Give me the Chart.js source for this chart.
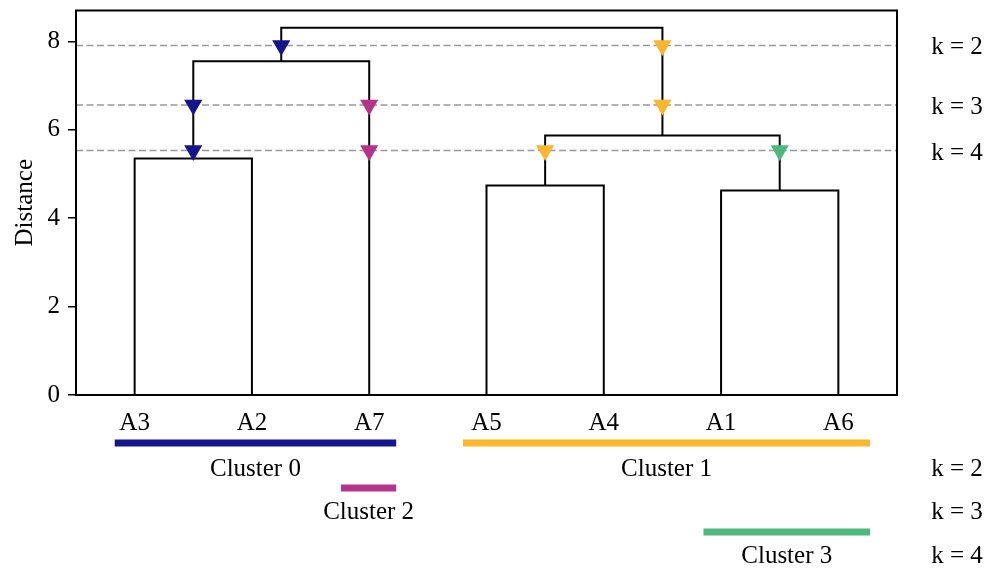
<!DOCTYPE html>
<html>
<head>
<meta charset="utf-8">
<script src="https://cdn.jsdelivr.net/npm/chart.js@4"></script>
<style>
  html, body { margin: 0; padding: 0; background: #fff; }
</style>
</head>
<body>
<canvas id="c" width="992" height="571"></canvas>
<script>
// leaves in dendrogram order
var leaves = ['A3', 'A2', 'A7', 'A5', 'A4', 'A1', 'A6'];

// merges: node ids 0..6 are leaves, merge i creates node 7+i
var mergeLeft = [0, 3, 5, 8, 7, 11];
var mergeRight = [1, 4, 6, 9, 2, 10];
var mergeHeight = [5.35, 4.74, 4.63, 5.87, 7.55, 8.31];

// cut levels
var cutHeights = [7.91, 6.56, 5.53];
var kLabels = ['k = 2', 'k = 3', 'k = 4'];
var markerClusters = [[0, 1], [0, 2, 1], [0, 2, 1, 3]];

// clusters shown below the axis
var clusterNames = ['Cluster 0', 'Cluster 1', 'Cluster 2', 'Cluster 3'];
var clusterColors = ['#14148c', '#fbb62c', '#b5338a', '#4cb87c'];
var clusterStart = [-0.17, 2.8, 1.76, 4.85];
var clusterEnd = [2.23, 6.27, 2.23, 6.27];
var clusterRow = [0, 0, 1, 2];

var yTicks = [0, 2, 4, 6, 8];

var font = "'Liberation Serif', 'Times New Roman', serif";
var fontSize = 25;

// node positions
var nodeX = [], nodeY = [], parent = [];
for (var i = 0; i < leaves.length; i++) {
  nodeX.push(i);
  nodeY.push(0);
}
for (var m = 0; m < mergeLeft.length; m++) {
  var id = leaves.length + m;
  nodeX.push((nodeX[mergeLeft[m]] + nodeX[mergeRight[m]]) / 2);
  nodeY.push(mergeHeight[m]);
  parent[mergeLeft[m]] = id;
  parent[mergeRight[m]] = id;
}

var datasets = [];

// dashed cut lines
cutHeights.forEach(function(h) {
  datasets.push({
    data: [{x: -0.5, y: h}, {x: leaves.length - 0.5, y: h}],
    showLine: true,
    borderColor: '#999999',
    borderWidth: 1.5,
    borderDash: [7, 3.5],
    pointRadius: 0,
    order: 3
  });
});

// dendrogram links
for (var m = 0; m < mergeLeft.length; m++) {
  var l = mergeLeft[m], r = mergeRight[m];
  datasets.push({
    data: [
      {x: nodeX[l], y: nodeY[l]},
      {x: nodeX[l], y: mergeHeight[m]},
      {x: nodeX[r], y: mergeHeight[m]},
      {x: nodeX[r], y: nodeY[r]}
    ],
    showLine: true,
    borderColor: '#000000',
    borderWidth: 2,
    pointRadius: 0,
    order: 2
  });
}

// markers where the cut lines cross the links
cutHeights.forEach(function(h, k) {
  var pts = [];
  for (var n = 0; n < nodeX.length; n++) {
    if (parent[n] !== undefined && nodeY[n] < h && nodeY[parent[n]] > h) {
      pts.push({x: nodeX[n], y: h});
    }
  }
  pts.sort(function(a, b) { return a.x - b.x; });
  datasets.push({
    data: pts,
    pointStyle: 'triangle',
    pointRotation: 180,
    pointRadius: 10.5,
    pointBorderWidth: 0,
    pointBackgroundColor: markerClusters[k].map(function(c) { return clusterColors[c]; }),
    showLine: false,
    clip: false,
    order: 1
  });
});

var extras = {
  id: 'extras',
  afterDraw: function(chart) {
    var ctx = chart.ctx, a = chart.chartArea;
    var xs = chart.scales.x, ys = chart.scales.y;
    ctx.save();
    // frame
    ctx.strokeStyle = '#000';
    ctx.lineWidth = 2;
    ctx.strokeRect(a.left, a.top, a.right - a.left, a.bottom - a.top);

    ctx.fillStyle = '#000';
    ctx.font = fontSize + 'px ' + font;
    ctx.textAlign = 'center';
    ctx.textBaseline = 'alphabetic';
    var kx = a.right + 60;
    cutHeights.forEach(function(h, k) {
      ctx.fillText(kLabels[k], kx, ys.getPixelForValue(h) + 9);
    });

    // cluster bars
    var barY = [443, 488, 532];
    var textY = [476, 519, 563];
    clusterNames.forEach(function(name, c) {
      var x1 = xs.getPixelForValue(clusterStart[c]);
      var x2 = xs.getPixelForValue(clusterEnd[c]);
      var row = clusterRow[c];
      ctx.strokeStyle = clusterColors[c];
      ctx.lineWidth = 7;
      ctx.lineCap = 'butt';
      ctx.beginPath();
      ctx.moveTo(x1, barY[row]);
      ctx.lineTo(x2, barY[row]);
      ctx.stroke();
      ctx.fillStyle = '#000';
      ctx.fillText(name, (x1 + x2) / 2, textY[row]);
    });
    kLabels.forEach(function(t, k) {
      ctx.fillText(t, kx, textY[k]);
    });
    ctx.restore();
  }
};

new Chart(document.getElementById('c'), {
  type: 'scatter',
  data: { datasets: datasets },
  plugins: [extras],
  options: {
    responsive: false,
    animation: false,
    devicePixelRatio: 1,
    layout: { padding: { top: 8, right: 95, left: 0, bottom: 0 } },
    plugins: {
      legend: { display: false },
      tooltip: { enabled: false }
    },
    scales: {
      x: {
        type: 'linear',
        min: -0.5,
        max: leaves.length - 0.5,
        afterBuildTicks: function(axis) {
          axis.ticks = leaves.map(function(_, i) { return {value: i}; });
        },
        afterFit: function(s) { s.height = 176; s.paddingLeft = 0; s.paddingRight = 0; },
        grid: { display: false, drawTicks: false },
        border: { display: true, color: '#000', width: 2 },
        ticks: {
          padding: 13,
          color: '#000',
          font: { family: font, size: fontSize },
          maxRotation: 0,
          callback: function(v) { return leaves[v]; }
        }
      },
      y: {
        min: 0,
        max: 8.7,
        afterBuildTicks: function(axis) {
          axis.ticks = yTicks.map(function(v) { return {value: v}; });
        },
        afterFit: function(s) { s.width = 76; s.paddingTop = 0; s.paddingBottom = 0; },
        grid: { drawOnChartArea: false, drawTicks: true, tickLength: 8, color: '#000', lineWidth: 1.5 },
        border: { display: true, color: '#000', width: 2 },
        title: {
          display: true,
          text: 'Distance',
          color: '#000',
          font: { family: font, size: fontSize },
          padding: { top: 10, bottom: 0 }
        },
        ticks: {
          padding: 8,
          color: '#000',
          font: { family: font, size: fontSize }
        }
      }
    }
  }
});
</script>
</body>
</html>
